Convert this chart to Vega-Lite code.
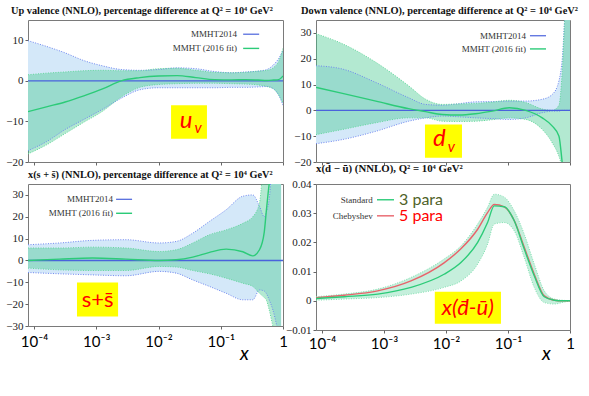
{
  "$schema": "https://vega.github.io/schema/vega-lite/v6.json",
  "background": "white",
  "padding": {"left": 5, "top": 5, "right": 0, "bottom": 0},
  "columns": 2,
  "spacing": {"row": 22, "column": 33},
  "bounds": "flush",
  "datasets": {
    "one": [{}],
    "uv": [
      {"x": 0.00008, "hi14": 9.9, "lo14": -17.2, "hi16": 1.5, "lo16": -18, "c16": -7.6},
      {"x": 0.000158, "hi14": 8.5, "lo14": -15, "hi16": 1.9, "lo16": -15.8, "c16": -6.4},
      {"x": 0.000316, "hi14": 6.9, "lo14": -12, "hi16": 2.2, "lo16": -13, "c16": -5.2},
      {"x": 0.000631, "hi14": 5.0, "lo14": -9.5, "hi16": 2.5, "lo16": -10.2, "c16": -3.7},
      {"x": 0.00126, "hi14": 3.7, "lo14": -7, "hi16": 2.6, "lo16": -7.5, "c16": -2.0},
      {"x": 0.00251, "hi14": 2.8, "lo14": -4.3, "hi16": 2.5, "lo16": -4, "c16": 0.0},
      {"x": 0.00501, "hi14": 2.6, "lo14": -2.2, "hi16": 2.5, "lo16": -1.6, "c16": 0.8},
      {"x": 0.01, "hi14": 2.8, "lo14": -1.7, "hi16": 3.0, "lo16": -0.9, "c16": 1.2},
      {"x": 0.02, "hi14": 3.2, "lo14": -1.7, "hi16": 3.1, "lo16": -0.7, "c16": 1.3},
      {"x": 0.0398, "hi14": 3.0, "lo14": -1.7, "hi16": 2.6, "lo16": -0.6, "c16": 0.8},
      {"x": 0.0794, "hi14": 2.3, "lo14": -1.7, "hi16": 2.1, "lo16": -0.6, "c16": 0.3},
      {"x": 0.151, "hi14": 2.0, "lo14": -1.6, "hi16": 2.0, "lo16": -0.7, "c16": 0.25},
      {"x": 0.251, "hi14": 2.2, "lo14": -1.6, "hi16": 2.1, "lo16": -0.8, "c16": 0.3},
      {"x": 0.398, "hi14": 2.4, "lo14": -1.5, "hi16": 2.4, "lo16": -1.0, "c16": 0.2},
      {"x": 0.55, "hi14": 2.8, "lo14": -1.4, "hi16": 2.6, "lo16": -1.4, "c16": 0.1},
      {"x": 0.708, "hi14": 4.0, "lo14": -2, "hi16": 3.3, "lo16": -2, "c16": 0.2},
      {"x": 0.851, "hi14": 5.5, "lo14": -3.5, "hi16": 4.8, "lo16": -3.5, "c16": 0.3},
      {"x": 1, "hi14": 7.5, "lo14": -6, "hi16": 8, "lo16": -5.5, "c16": 1.2}
    ],
    "dv": [
      {"x": 0.00008, "hi14": 17.3, "lo14": -12.9, "hi16": 29.7, "lo16": -9.4, "c16": 8.9},
      {"x": 0.000214, "hi14": 16, "lo14": -11.3, "hi16": 25.8, "lo16": -7.4, "c16": 6.6},
      {"x": 0.00074, "hi14": 10.8, "lo14": -8.1, "hi16": 18.6, "lo16": -4.8, "c16": 3.6},
      {"x": 0.0025, "hi14": 4.9, "lo14": -4.2, "hi16": 9.5, "lo16": -2.9, "c16": 0.65},
      {"x": 0.0047, "hi14": 2.3, "lo14": -2.9, "hi16": 4.3, "lo16": -2.9, "c16": -0.5},
      {"x": 0.0087, "hi14": 2.0, "lo14": -2.2, "hi16": 2.3, "lo16": -4.2, "c16": -1.6},
      {"x": 0.0162, "hi14": 2.6, "lo14": -2.5, "hi16": 2.5, "lo16": -4.3, "c16": -1.8},
      {"x": 0.03, "hi14": 3.3, "lo14": -2.9, "hi16": 2.7, "lo16": -4.2, "c16": -1.3},
      {"x": 0.056, "hi14": 3.4, "lo14": -3.2, "hi16": 3.2, "lo16": -3.6, "c16": -0.3},
      {"x": 0.105, "hi14": 3.6, "lo14": -3.5, "hi16": 3.9, "lo16": -2.9, "c16": 1.0},
      {"x": 0.193, "hi14": 3.6, "lo14": -2.9, "hi16": 3.0, "lo16": -3.5, "c16": 0},
      {"x": 0.357, "hi14": 4.3, "lo14": -0.9, "hi16": 0.5, "lo16": -7.4, "c16": -2.9},
      {"x": 0.519, "hi14": 6.2, "lo14": -0.3, "hi16": 0.0, "lo16": -12.6, "c16": -6.1},
      {"x": 0.664, "hi14": 11.5, "lo14": -0.3, "hi16": 2, "lo16": -17.8, "c16": -10},
      {"x": 0.75, "hi14": 20, "lo14": 0, "hi16": 15, "lo16": -22, "c16": -20.4},
      {"x": 0.85, "hi14": 40, "lo14": 0, "hi16": 40, "lo16": -26, "c16": -32},
      {"x": 1, "hi14": 45, "lo14": 0, "hi16": 45, "lo16": -30, "c16": -45}
    ],
    "ss": [
      {"x": 0.00008, "hi14": 7.2, "lo14": -5.5, "hi16": 5.7, "lo16": -3.5, "c16": 0},
      {"x": 0.000257, "hi14": 8, "lo14": -6.1, "hi16": 5.7, "lo16": -4.3, "c16": 0.6},
      {"x": 0.00087, "hi14": 9.2, "lo14": -6.6, "hi16": 6.1, "lo16": -4.6, "c16": 1.1},
      {"x": 0.003, "hi14": 9.5, "lo14": -7, "hi16": 5.7, "lo16": -4.6, "c16": 0.6},
      {"x": 0.0102, "hi14": 8, "lo14": -5, "hi16": 4.1, "lo16": -2.75, "c16": 0},
      {"x": 0.0192, "hi14": 8.7, "lo14": -5.8, "hi16": 4.9, "lo16": -3, "c16": 0.3},
      {"x": 0.0355, "hi14": 12.5, "lo14": -8.9, "hi16": 8, "lo16": -4.6, "c16": 1.5},
      {"x": 0.066, "hi14": 17.9, "lo14": -11.9, "hi16": 11.8, "lo16": -6.1, "c16": 3.7},
      {"x": 0.122, "hi14": 23.2, "lo14": -15, "hi16": 14, "lo16": -8.1, "c16": 5.2},
      {"x": 0.226, "hi14": 29.4, "lo14": -18, "hi16": 17, "lo16": -10.4, "c16": 4.0},
      {"x": 0.327, "hi14": 30, "lo14": -18, "hi16": 20, "lo16": -11.9, "c16": 2.1},
      {"x": 0.419, "hi14": 24.8, "lo14": -13.5, "hi16": 26.3, "lo16": -15, "c16": 4.9},
      {"x": 0.5, "hi14": 20, "lo14": -14, "hi16": 45, "lo16": -17, "c16": 13},
      {"x": 0.537, "hi14": 22, "lo14": -15, "hi16": 45, "lo16": -18, "c16": 22},
      {"x": 0.6, "hi14": 28, "lo14": -18, "hi16": 45, "lo16": -22.6, "c16": 35},
      {"x": 0.687, "hi14": 45, "lo14": -22.6, "hi16": 45, "lo16": -30, "c16": 45},
      {"x": 0.933, "hi14": 45, "lo14": -40, "hi16": 45, "lo16": -40, "c16": 45}
    ],
    "du": [
      {"x": 0.00008, "lo": 0.0002, "hi": 0.0014, "std": 0.0008, "cheb": 0.0011},
      {"x": 0.000229, "lo": 0.0006, "hi": 0.0023, "std": 0.0014, "cheb": 0.0019},
      {"x": 0.00079, "lo": 0.0011, "hi": 0.004, "std": 0.0023, "cheb": 0.0034},
      {"x": 0.00272, "lo": 0.0023, "hi": 0.008, "std": 0.0046, "cheb": 0.0068},
      {"x": 0.0093, "lo": 0.0046, "hi": 0.0143, "std": 0.0091, "cheb": 0.013},
      {"x": 0.0174, "lo": 0.0068, "hi": 0.0188, "std": 0.0131, "cheb": 0.0178},
      {"x": 0.0324, "lo": 0.0126, "hi": 0.0263, "std": 0.02, "cheb": 0.0245},
      {"x": 0.0468, "lo": 0.0194, "hi": 0.032, "std": 0.0268, "cheb": 0.0302},
      {"x": 0.06, "lo": 0.0263, "hi": 0.0365, "std": 0.0325, "cheb": 0.033},
      {"x": 0.087, "lo": 0.0268, "hi": 0.0355, "std": 0.0322, "cheb": 0.0322},
      {"x": 0.126, "lo": 0.024, "hi": 0.0308, "std": 0.0274, "cheb": 0.0275},
      {"x": 0.183, "lo": 0.0148, "hi": 0.0228, "std": 0.0177, "cheb": 0.0183},
      {"x": 0.265, "lo": 0.0046, "hi": 0.0126, "std": 0.0086, "cheb": 0.0091},
      {"x": 0.385, "lo": -0.0006, "hi": 0.0034, "std": 0.0014, "cheb": 0.0017},
      {"x": 0.558, "lo": -0.0011, "hi": 0.0006, "std": 0.0002, "cheb": 0.0002},
      {"x": 0.75, "lo": -0.0006, "hi": 0.0002, "std": 0, "cheb": 0},
      {"x": 1, "lo": 0, "hi": 0, "std": 0, "cheb": 0}
    ]
  },
  "concat": [
    {
      "width": 255, "height": 142,
      "title": {"text": "Up valence (NNLO), percentage difference at Q² = 10⁴ GeV²", "anchor": "start", "frame": "group", "dx": -17, "offset": 4, "font": "Liberation Serif", "fontSize": 10.3, "fontWeight": "bold", "color": "#111"},
      "data": {"name": "uv"},
      "layer": [
        {"mark": {"type": "area", "interpolate": "monotone", "color": "#d4e8f9", "clip": true},
         "encoding": {
           "x": {"field": "x", "type": "quantitative", "title": null, "scale": {"type": "log", "domain": [0.00008, 1], "nice": false}, "axis": {"labels": false, "values": [0.0001, 0.001, 0.01, 0.1, 1]}},
           "y": {"field": "lo14", "type": "quantitative", "title": null, "scale": {"domain": [-20, 15], "nice": false, "zero": false}, "axis": {"values": [-20, -10, 0, 10], "tickCount": 10, "format": "~r", "labelOverlap": false, "labelSeparation": 0, "labelBound": false}},
           "y2": {"field": "hi14"}}},
        {"mark": {"type": "area", "interpolate": "monotone", "color": "#40c98c", "opacity": 0.4, "clip": true},
         "encoding": {"x": {"field": "x", "type": "quantitative", "title": null}, "y": {"field": "lo16", "type": "quantitative", "title": null}, "y2": {"field": "hi16"}}},
        {"transform": [{"fold": ["lo14", "hi14"], "as": ["edge", "v"]}],
         "mark": {"type": "line", "interpolate": "monotone", "color": "#6f86f0", "strokeDash": [1, 1.5], "strokeWidth": 1, "clip": true},
         "encoding": {"x": {"field": "x", "type": "quantitative", "title": null}, "y": {"field": "v", "type": "quantitative", "title": null}, "detail": {"field": "edge"}}},
        {"transform": [{"fold": ["lo16", "hi16"], "as": ["edge", "v"]}],
         "mark": {"type": "line", "interpolate": "monotone", "color": "#63d89c", "strokeDash": [1, 1.5], "strokeWidth": 1, "clip": true},
         "encoding": {"x": {"field": "x", "type": "quantitative", "title": null}, "y": {"field": "v", "type": "quantitative", "title": null}, "detail": {"field": "edge"}}},
        {"data": {"name": "one"}, "mark": {"type": "rule", "color": "#4a62dc", "strokeWidth": 1.2}, "encoding": {"y": {"datum": 0}}},
        {"mark": {"type": "line", "interpolate": "monotone", "color": "#2ccb78", "strokeWidth": 1.4, "clip": true},
         "encoding": {"x": {"field": "x", "type": "quantitative", "title": null}, "y": {"field": "c16", "type": "quantitative", "title": null}}},
        {"data": {"name": "one"}, "mark": {"type": "text", "align": "right", "baseline": "middle", "font": "Liberation Serif", "fontSize": 9, "color": "#333", "text": "MMHT2014"},
         "encoding": {"x": {"datum": 0.183}, "y": {"datum": 11.5}}},
        {"data": {"name": "one"}, "mark": {"type": "text", "align": "right", "baseline": "middle", "font": "Liberation Serif", "fontSize": 9, "color": "#333", "text": "MMHT (2016 fit)"},
         "encoding": {"x": {"datum": 0.183}, "y": {"datum": 8}}},
        {"data": {"name": "one"}, "mark": {"type": "rule", "color": "#4a62dc", "strokeWidth": 1.2}, "encoding": {"x": {"datum": 0.229}, "x2": {"datum": 0.414}, "y": {"datum": 11.5}}},
        {"data": {"name": "one"}, "mark": {"type": "rule", "color": "#2ccb78", "strokeWidth": 1.4}, "encoding": {"x": {"datum": 0.229}, "x2": {"datum": 0.414}, "y": {"datum": 8}}},
        {"data": {"name": "one"}, "mark": {"type": "rect", "color": "#ffff00"}, "encoding": {"x": {"datum": 0.0159}, "x2": {"datum": 0.06}, "y": {"datum": -14.25}, "y2": {"datum": -6}}},
        {"data": {"name": "one"}, "mark": {"type": "text", "align": "center", "baseline": "middle", "font": "Lato", "fontStyle": "italic", "fontSize": 24, "color": "#ff0000", "text": "u", "dx": -3, "dy": -1},
         "encoding": {"x": {"datum": 0.0309}, "y": {"datum": -10.1}}},
        {"data": {"name": "one"}, "mark": {"type": "text", "align": "center", "baseline": "middle", "font": "Lato", "fontStyle": "italic", "fontSize": 15, "color": "#ff0000", "text": "v", "dx": 9, "dy": 6},
         "encoding": {"x": {"datum": 0.0309}, "y": {"datum": -10.1}}}
      ]
    },
    {
      "width": 254, "height": 142,
      "title": {"text": "Down valence (NNLO), percentage difference at Q² = 10⁴ GeV²", "anchor": "start", "frame": "group", "dx": -15, "offset": 4, "font": "Liberation Serif", "fontSize": 10.4, "fontWeight": "bold", "color": "#111"},
      "data": {"name": "dv"},
      "layer": [
        {"mark": {"type": "area", "interpolate": "monotone", "color": "#d4e8f9", "clip": true},
         "encoding": {
           "x": {"field": "x", "type": "quantitative", "title": null, "scale": {"type": "log", "domain": [0.00008, 1], "nice": false}, "axis": {"labels": false, "values": [0.0001, 0.001, 0.01, 0.1, 1]}},
           "y": {"field": "lo14", "type": "quantitative", "title": null, "scale": {"domain": [-20, 35], "nice": false, "zero": false}, "axis": {"values": [-20, -10, 0, 10, 20, 30], "tickCount": 10, "format": "~r", "labelOverlap": false, "labelSeparation": 0, "labelBound": false}},
           "y2": {"field": "hi14"}}},
        {"mark": {"type": "area", "interpolate": "monotone", "color": "#40c98c", "opacity": 0.4, "clip": true},
         "encoding": {"x": {"field": "x", "type": "quantitative", "title": null}, "y": {"field": "lo16", "type": "quantitative", "title": null}, "y2": {"field": "hi16"}}},
        {"transform": [{"fold": ["lo14", "hi14"], "as": ["edge", "v"]}],
         "mark": {"type": "line", "interpolate": "monotone", "color": "#6f86f0", "strokeDash": [1, 1.5], "strokeWidth": 1, "clip": true},
         "encoding": {"x": {"field": "x", "type": "quantitative", "title": null}, "y": {"field": "v", "type": "quantitative", "title": null}, "detail": {"field": "edge"}}},
        {"transform": [{"fold": ["lo16", "hi16"], "as": ["edge", "v"]}],
         "mark": {"type": "line", "interpolate": "monotone", "color": "#63d89c", "strokeDash": [1, 1.5], "strokeWidth": 1, "clip": true},
         "encoding": {"x": {"field": "x", "type": "quantitative", "title": null}, "y": {"field": "v", "type": "quantitative", "title": null}, "detail": {"field": "edge"}}},
        {"data": {"name": "one"}, "mark": {"type": "rule", "color": "#4a62dc", "strokeWidth": 1.2}, "encoding": {"y": {"datum": 0}}},
        {"mark": {"type": "line", "interpolate": "monotone", "color": "#2ccb78", "strokeWidth": 1.4, "clip": true},
         "encoding": {"x": {"field": "x", "type": "quantitative", "title": null}, "y": {"field": "c16", "type": "quantitative", "title": null}}},
        {"data": {"name": "one"}, "mark": {"type": "text", "align": "right", "baseline": "middle", "font": "Liberation Serif", "fontSize": 9, "color": "#333", "text": "MMHT2014"},
         "encoding": {"x": {"datum": 0.195}, "y": {"datum": 28.9}}},
        {"data": {"name": "one"}, "mark": {"type": "text", "align": "right", "baseline": "middle", "font": "Liberation Serif", "fontSize": 9, "color": "#333", "text": "MMHT (2016 fit)"},
         "encoding": {"x": {"datum": 0.195}, "y": {"datum": 23.8}}},
        {"data": {"name": "one"}, "mark": {"type": "rule", "color": "#4a62dc", "strokeWidth": 1.2}, "encoding": {"x": {"datum": 0.226}, "x2": {"datum": 0.41}, "y": {"datum": 28.9}}},
        {"data": {"name": "one"}, "mark": {"type": "rule", "color": "#2ccb78", "strokeWidth": 1.4}, "encoding": {"x": {"datum": 0.226}, "x2": {"datum": 0.41}, "y": {"datum": 23.8}}},
        {"data": {"name": "one"}, "mark": {"type": "rect", "color": "#ffff00"}, "encoding": {"x": {"datum": 0.00458}, "x2": {"datum": 0.0181}, "y": {"datum": -18.4}, "y2": {"datum": -5.5}}},
        {"data": {"name": "one"}, "mark": {"type": "text", "align": "center", "baseline": "middle", "font": "Lato", "fontStyle": "italic", "fontSize": 24, "color": "#ff0000", "text": "d", "dx": -4, "dy": -2},
         "encoding": {"x": {"datum": 0.0091}, "y": {"datum": -12}}},
        {"data": {"name": "one"}, "mark": {"type": "text", "align": "center", "baseline": "middle", "font": "Lato", "fontStyle": "italic", "fontSize": 15, "color": "#ff0000", "text": "v", "dx": 8, "dy": 6},
         "encoding": {"x": {"datum": 0.0091}, "y": {"datum": -12}}}
      ]
    },
    {
      "width": 255, "height": 142,
      "title": {"text": "x(s + s̄) (NNLO), percentage difference at Q² = 10⁴ GeV²", "anchor": "start", "frame": "group", "dx": 0, "offset": 4, "font": "Liberation Serif", "fontSize": 10.3, "fontWeight": "bold", "color": "#111"},
      "data": {"name": "ss"},
      "layer": [
        {"mark": {"type": "area", "interpolate": "monotone", "color": "#d4e8f9", "clip": true},
         "encoding": {
           "x": {"field": "x", "type": "quantitative", "title": "x", "scale": {"type": "log", "domain": [0.00008, 1], "nice": false},
                 "axis": {"values": [0.0001, 0.001, 0.01, 0.1, 1], "labelExpr": "datum.value < 0.00015 ? '10⁻⁴' : datum.value < 0.0015 ? '10⁻³' : datum.value < 0.015 ? '10⁻²' : datum.value < 0.15 ? '10⁻¹' : '1'", "labelFont": "Lato", "labelFontSize": 15, "labelColor": "#000", "labelPadding": 5, "labelFlush": false, "labelOverlap": false, "titleFont": "Lato", "titleFontSize": 19, "titleFontStyle": "italic", "titleFontWeight": "normal", "titleColor": "#000", "titleX": 216, "titleY": 27, "titleBaseline": "middle", "titleAlign": "center"}},
           "y": {"field": "lo14", "type": "quantitative", "title": null, "scale": {"domain": [-30, 35], "nice": false, "zero": false}, "axis": {"values": [-30, -20, -10, 0, 10, 20, 30], "tickCount": 10, "format": "~r", "labelOverlap": false, "labelSeparation": 0, "labelBound": false}},
           "y2": {"field": "hi14"}}},
        {"mark": {"type": "area", "interpolate": "monotone", "color": "#40c98c", "opacity": 0.4, "clip": true},
         "encoding": {"x": {"field": "x", "type": "quantitative"}, "y": {"field": "lo16", "type": "quantitative", "title": null}, "y2": {"field": "hi16"}}},
        {"transform": [{"fold": ["lo14", "hi14"], "as": ["edge", "v"]}],
         "mark": {"type": "line", "interpolate": "monotone", "color": "#6f86f0", "strokeDash": [1, 1.5], "strokeWidth": 1, "clip": true},
         "encoding": {"x": {"field": "x", "type": "quantitative"}, "y": {"field": "v", "type": "quantitative", "title": null}, "detail": {"field": "edge"}}},
        {"transform": [{"fold": ["lo16", "hi16"], "as": ["edge", "v"]}],
         "mark": {"type": "line", "interpolate": "monotone", "color": "#63d89c", "strokeDash": [1, 1.5], "strokeWidth": 1, "clip": true},
         "encoding": {"x": {"field": "x", "type": "quantitative"}, "y": {"field": "v", "type": "quantitative", "title": null}, "detail": {"field": "edge"}}},
        {"data": {"name": "one"}, "mark": {"type": "rule", "color": "#4a62dc", "strokeWidth": 1.6}, "encoding": {"y": {"datum": 0}}},
        {"mark": {"type": "line", "interpolate": "monotone", "color": "#2ccb78", "strokeWidth": 1.4, "clip": true},
         "encoding": {"x": {"field": "x", "type": "quantitative"}, "y": {"field": "c16", "type": "quantitative", "title": null}}},
        {"data": {"name": "one"}, "mark": {"type": "text", "align": "right", "baseline": "middle", "font": "Liberation Serif", "fontSize": 9, "color": "#333", "text": "MMHT2014"},
         "encoding": {"x": {"datum": 0.00186}, "y": {"datum": 28}}},
        {"data": {"name": "one"}, "mark": {"type": "text", "align": "right", "baseline": "middle", "font": "Liberation Serif", "fontSize": 9, "color": "#333", "text": "MMHT (2016 fit)"},
         "encoding": {"x": {"datum": 0.00186}, "y": {"datum": 21.6}}},
        {"data": {"name": "one"}, "mark": {"type": "rule", "color": "#4a62dc", "strokeWidth": 1.2}, "encoding": {"x": {"datum": 0.00208}, "x2": {"datum": 0.00376}, "y": {"datum": 28}}},
        {"data": {"name": "one"}, "mark": {"type": "rule", "color": "#2ccb78", "strokeWidth": 1.4}, "encoding": {"x": {"datum": 0.00208}, "x2": {"datum": 0.00376}, "y": {"datum": 21.6}}},
        {"data": {"name": "one"}, "mark": {"type": "rect", "color": "#ffff00"}, "encoding": {"x": {"datum": 0.00049}, "x2": {"datum": 0.00224}, "y": {"datum": -25.7}, "y2": {"datum": -10.1}}},
        {"data": {"name": "one"}, "mark": {"type": "text", "align": "center", "baseline": "middle", "font": "Lato", "fontSize": 22, "color": "#ff0000", "text": "s+s̄"},
         "encoding": {"x": {"datum": 0.00105}, "y": {"datum": -17.9}}}
      ]
    },
    {
      "width": 254, "height": 146,
      "title": {"text": "x(d̄ − ū) (NNLO), Q² = 10⁴ GeV²", "anchor": "start", "frame": "group", "dx": 0, "offset": 4, "font": "Liberation Serif", "fontSize": 10.8, "fontWeight": "bold", "color": "#111"},
      "data": {"name": "du"},
      "layer": [
        {"mark": {"type": "area", "interpolate": "monotone", "color": "#40c98c", "opacity": 0.3, "clip": true},
         "encoding": {
           "x": {"field": "x", "type": "quantitative", "title": "x", "scale": {"type": "log", "domain": [0.00008, 1], "nice": false},
                 "axis": {"values": [0.0001, 0.001, 0.01, 0.1, 1], "labelExpr": "datum.value < 0.00015 ? '10⁻⁴' : datum.value < 0.0015 ? '10⁻³' : datum.value < 0.015 ? '10⁻²' : datum.value < 0.15 ? '10⁻¹' : '1'", "labelFont": "Lato", "labelFontSize": 15, "labelColor": "#000", "labelPadding": 3, "labelFlush": false, "labelOverlap": false, "titleFont": "Lato", "titleFontSize": 19, "titleFontStyle": "italic", "titleFontWeight": "normal", "titleColor": "#000", "titleX": 230, "titleY": 23, "titleBaseline": "middle", "titleAlign": "center"}},
           "y": {"field": "lo", "type": "quantitative", "title": null, "scale": {"domain": [-0.01, 0.04], "nice": false, "zero": false}, "axis": {"values": [-0.01, 0, 0.01, 0.02, 0.03, 0.04], "tickCount": 10, "format": "~r", "labelOverlap": false, "labelSeparation": 0, "labelBound": false}},
           "y2": {"field": "hi"}}},
        {"transform": [{"fold": ["lo", "hi"], "as": ["edge", "v"]}],
         "mark": {"type": "line", "interpolate": "monotone", "color": "#7ddfae", "strokeDash": [1, 1.5], "strokeWidth": 1, "clip": true},
         "encoding": {"x": {"field": "x", "type": "quantitative"}, "y": {"field": "v", "type": "quantitative", "title": null}, "detail": {"field": "edge"}}},
        {"mark": {"type": "line", "interpolate": "monotone", "color": "#e8636b", "strokeWidth": 1.4, "clip": true},
         "encoding": {"x": {"field": "x", "type": "quantitative"}, "y": {"field": "cheb", "type": "quantitative", "title": null}}},
        {"mark": {"type": "line", "interpolate": "monotone", "color": "#2ccb78", "strokeWidth": 1.4, "clip": true},
         "encoding": {"x": {"field": "x", "type": "quantitative"}, "y": {"field": "std", "type": "quantitative", "title": null}}},
        {"data": {"name": "one"}, "mark": {"type": "text", "align": "right", "baseline": "middle", "font": "Liberation Serif", "fontSize": 9, "color": "#333", "text": "Standard"},
         "encoding": {"x": {"datum": 0.00066}, "y": {"datum": 0.0346}}},
        {"data": {"name": "one"}, "mark": {"type": "text", "align": "right", "baseline": "middle", "font": "Liberation Serif", "fontSize": 9, "color": "#333", "text": "Chebyshev"},
         "encoding": {"x": {"datum": 0.00066}, "y": {"datum": 0.0291}}},
        {"data": {"name": "one"}, "mark": {"type": "rule", "color": "#2ccb78", "strokeWidth": 1.4}, "encoding": {"x": {"datum": 0.00077}, "x2": {"datum": 0.00145}, "y": {"datum": 0.0346}}},
        {"data": {"name": "one"}, "mark": {"type": "rule", "color": "#e8636b", "strokeWidth": 1.4}, "encoding": {"x": {"datum": 0.00077}, "x2": {"datum": 0.00145}, "y": {"datum": 0.0291}}},
        {"data": {"name": "one"}, "mark": {"type": "text", "align": "left", "baseline": "middle", "font": "Lato", "fontSize": 16, "color": "#4f6228", "text": "3 para"},
         "encoding": {"x": {"datum": 0.00175}, "y": {"datum": 0.0346}}},
        {"data": {"name": "one"}, "mark": {"type": "text", "align": "left", "baseline": "middle", "font": "Lato", "fontSize": 16, "color": "#ff0000", "text": "5 para"},
         "encoding": {"x": {"datum": 0.00175}, "y": {"datum": 0.0291}}},
        {"data": {"name": "one"}, "mark": {"type": "rect", "color": "#ffff00"}, "encoding": {"x": {"datum": 0.0066}, "x2": {"datum": 0.077}, "y": {"datum": -0.0079}, "y2": {"datum": 0.0031}}},
        {"data": {"name": "one"}, "mark": {"type": "text", "align": "center", "baseline": "middle", "font": "Lato", "fontStyle": "italic", "fontSize": 22, "color": "#ff0000", "text": "x(d̄-ū)"},
         "encoding": {"x": {"datum": 0.0225}, "y": {"datum": -0.0024}}}
      ]
    }
  ],
  "config": {
    "view": {"stroke": "#7a7a7a", "strokeWidth": 1},
    "axis": {"grid": false, "domain": false, "labelFont": "Liberation Serif", "labelFontSize": 11, "labelColor": "#222", "tickColor": "#666", "tickSize": 3, "labelPadding": 2, "labelOverlap": false},
    "axisY": {"labelOverlap": false},
    "axisQuantitative": {"labelOverlap": false}
  }
}
